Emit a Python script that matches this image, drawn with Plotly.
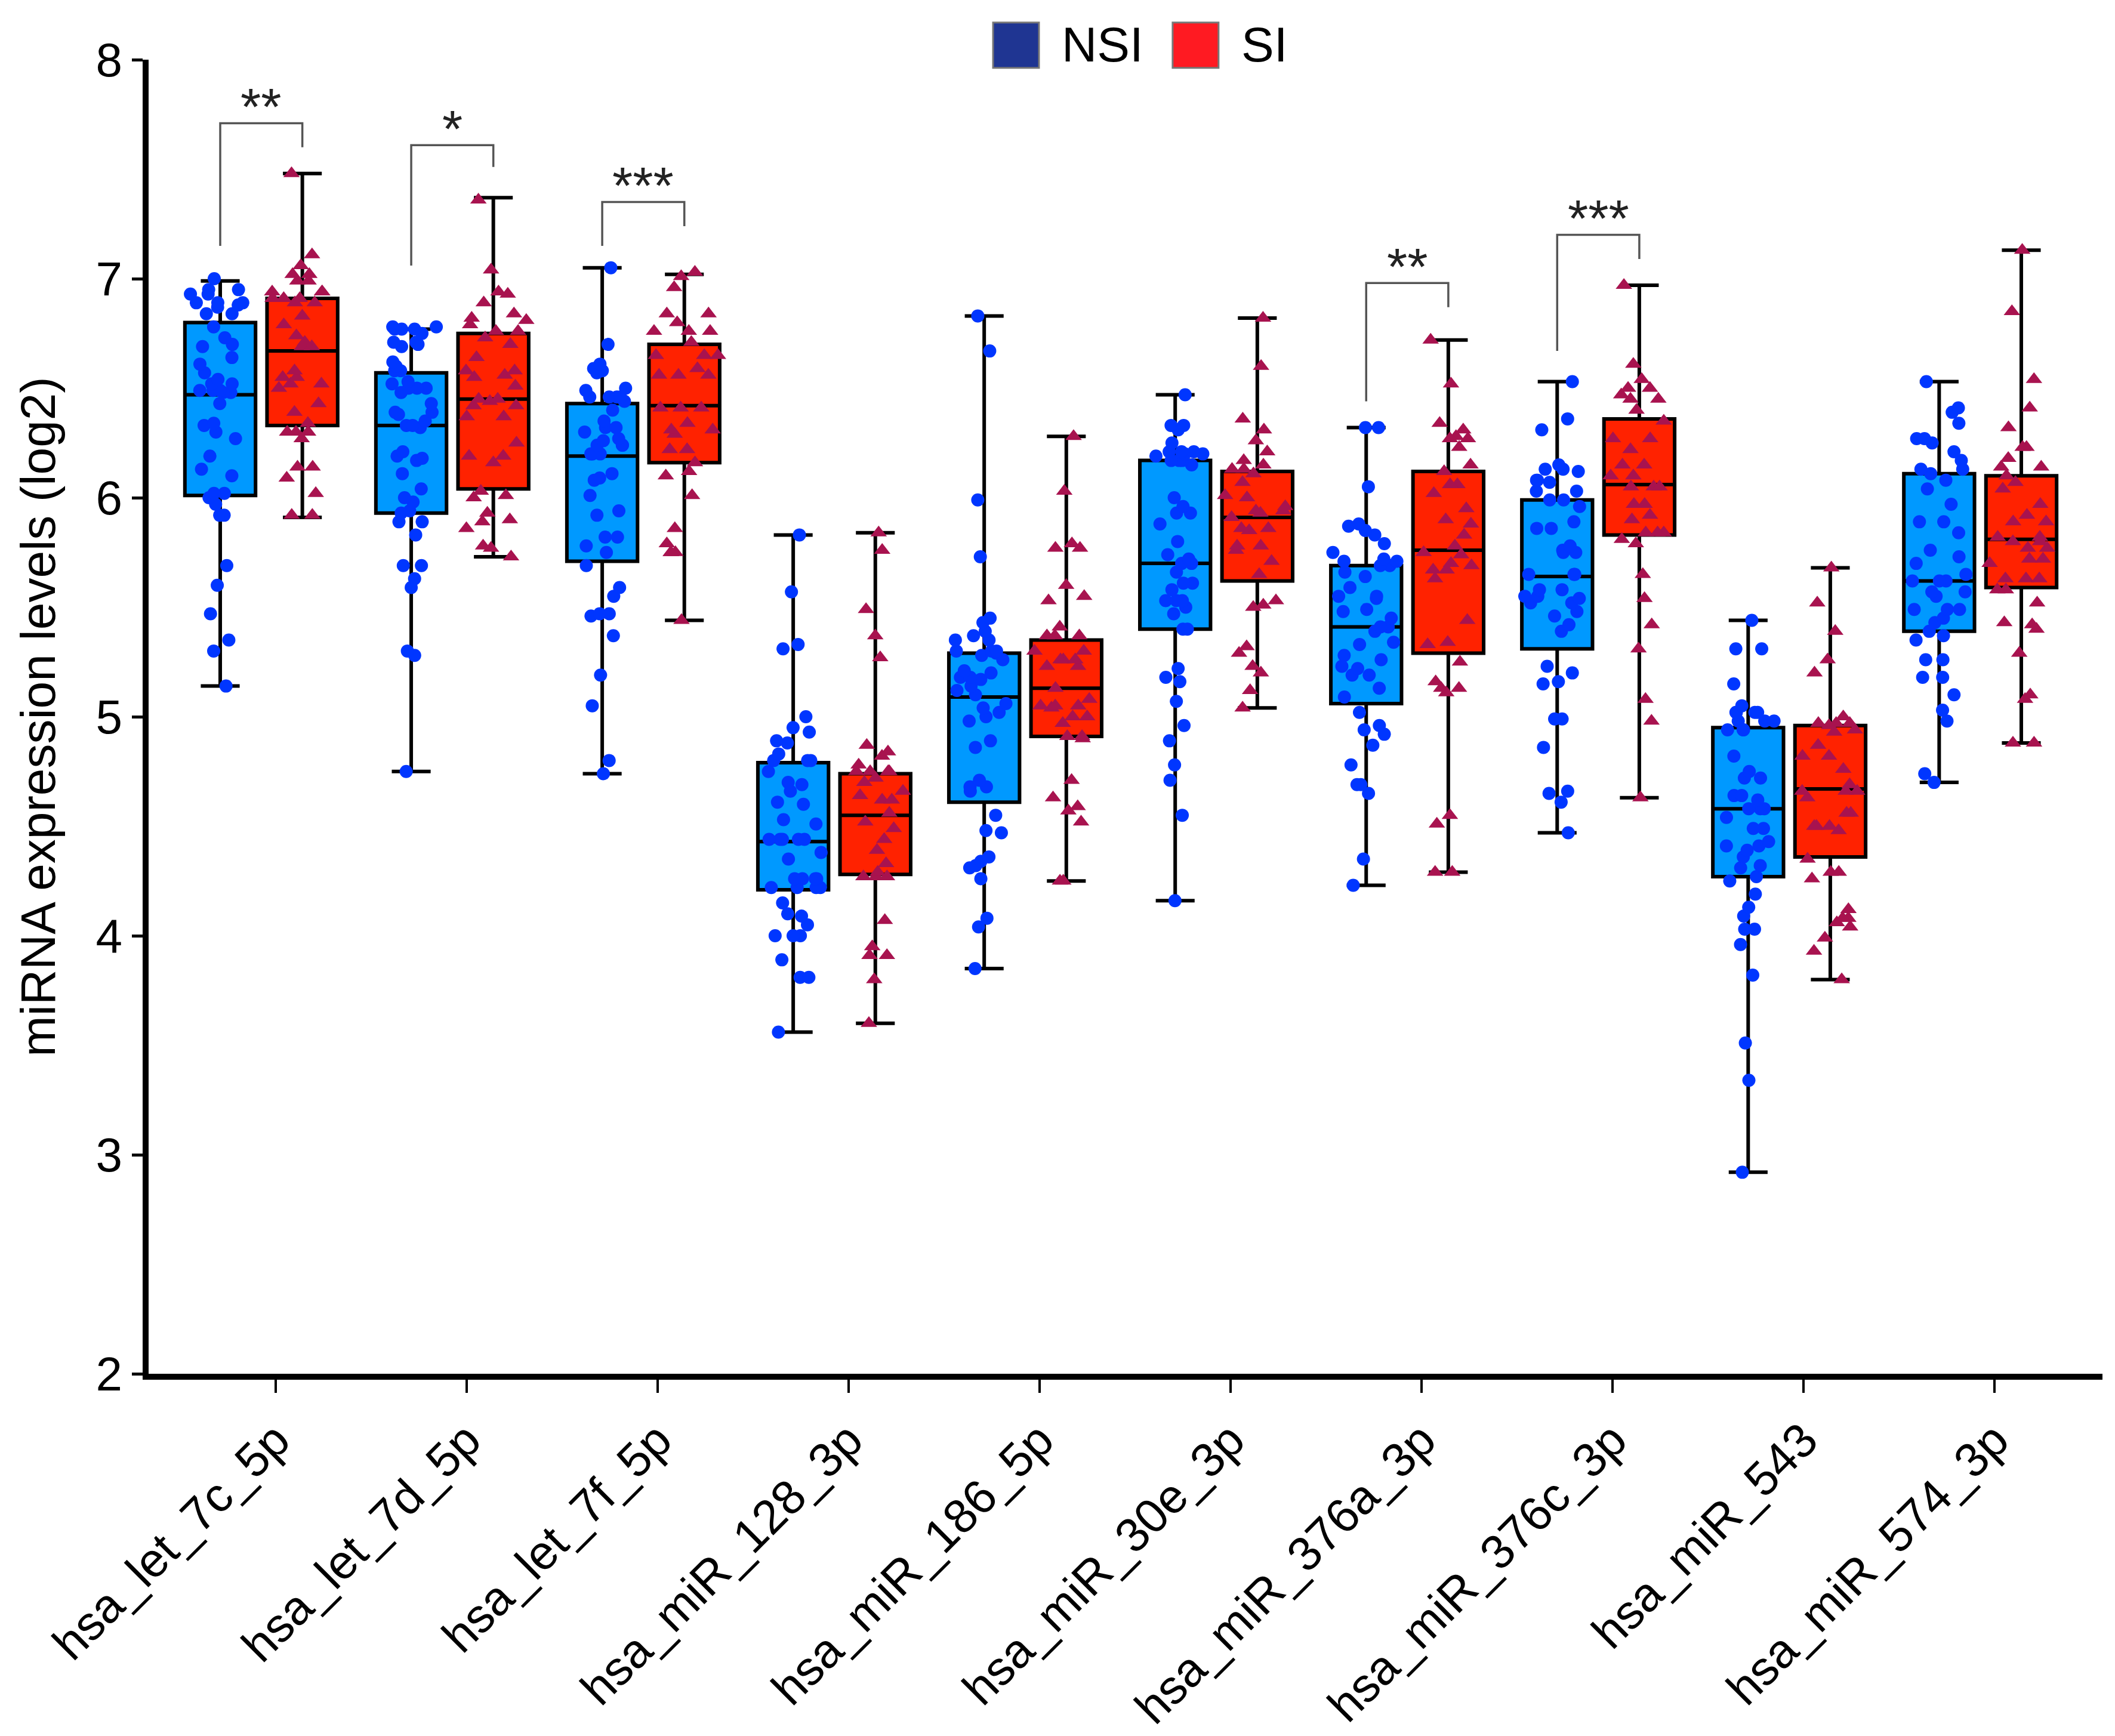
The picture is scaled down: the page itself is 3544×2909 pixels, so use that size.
import plotly.graph_objects as go

# miRNA names on the x axis
mirnas = ["hsa_let_7c_5p", "hsa_let_7d_5p", "hsa_let_7f_5p", "hsa_miR_128_3p",
          "hsa_miR_186_5p", "hsa_miR_30e_3p", "hsa_miR_376a_3p", "hsa_miR_376c_3p",
          "hsa_miR_543", "hsa_miR_574_3p"]

# box statistics (whiskers go to min / max)
nsi_min = [5.14, 4.75, 4.74, 3.56, 3.85, 4.16, 4.23, 4.47, 2.92, 4.70]
nsi_q1 = [6.01, 5.93, 5.71, 4.21, 4.61, 5.40, 5.06, 5.31, 4.27, 5.39]
nsi_median = [6.47, 6.33, 6.19, 4.43, 5.09, 5.70, 5.41, 5.64, 4.58, 5.62]
nsi_q3 = [6.80, 6.57, 6.43, 4.79, 5.29, 6.17, 5.69, 5.99, 4.95, 6.11]
nsi_max = [6.99, 6.77, 7.05, 5.83, 6.83, 6.47, 6.32, 6.53, 5.44, 6.53]

si_min = [5.91, 5.73, 5.44, 3.60, 4.25, 5.04, 4.29, 4.63, 3.80, 4.88]
si_q1 = [6.33, 6.04, 6.16, 4.28, 4.91, 5.62, 5.29, 5.83, 4.36, 5.59]
si_median = [6.67, 6.45, 6.42, 4.55, 5.13, 5.91, 5.76, 6.06, 4.67, 5.81]
si_q3 = [6.91, 6.75, 6.70, 4.74, 5.35, 6.12, 6.12, 6.36, 4.96, 6.10]
si_max = [7.48, 7.37, 7.02, 5.84, 6.28, 6.82, 6.72, 6.97, 5.68, 7.13]

# individual samples, one list per miRNA
nsi_values = [
    [7.00, 6.95, 6.95, 6.93, 6.93, 6.89, 6.89, 6.89, 6.88, 6.87, 6.84, 6.84, 6.78, 6.73, 6.70, 6.69,
     6.64, 6.61, 6.57, 6.54, 6.52, 6.52, 6.49, 6.49, 6.49, 6.48, 6.48, 6.43, 6.34, 6.33, 6.30, 6.27,
     6.19, 6.13, 6.10, 6.02, 6.02, 6.00, 5.97, 5.92, 5.92, 5.69, 5.60, 5.47, 5.35, 5.30, 5.14],
    [6.78, 6.78, 6.77, 6.77, 6.77, 6.75, 6.71, 6.71, 6.70, 6.69, 6.62, 6.60, 6.58, 6.58, 6.53, 6.52,
     6.50, 6.50, 6.50, 6.48, 6.43, 6.39, 6.39, 6.38, 6.35, 6.33, 6.33, 6.32, 6.21, 6.19, 6.18, 6.17,
     6.11, 6.04, 6.00, 5.98, 5.94, 5.93, 5.89, 5.89, 5.83, 5.69, 5.69, 5.63, 5.59, 5.30, 5.28, 4.75],
    [7.05, 6.70, 6.61, 6.59, 6.58, 6.57, 6.50, 6.49, 6.46, 6.46, 6.46, 6.46, 6.44, 6.40, 6.35, 6.32,
     6.32, 6.30, 6.27, 6.26, 6.24, 6.24, 6.24, 6.20, 6.20, 6.20, 6.11, 6.09, 6.08, 6.01, 5.94, 5.92,
     5.82, 5.82, 5.78, 5.75, 5.69, 5.59, 5.55, 5.47, 5.47, 5.46, 5.37, 5.19, 5.05, 4.80, 4.74],
    [5.83, 5.57, 5.33, 5.31, 5.00, 4.95, 4.93, 4.89, 4.88, 4.83, 4.80, 4.80, 4.80, 4.75, 4.70, 4.69,
     4.66, 4.61, 4.60, 4.53, 4.51, 4.44, 4.44, 4.44, 4.44, 4.44, 4.38, 4.35, 4.26, 4.26, 4.26, 4.26,
     4.22, 4.22, 4.22, 4.22, 4.15, 4.10, 4.09, 4.05, 4.00, 4.00, 4.00, 3.89, 3.81, 3.81, 3.56],
    [6.83, 6.67, 5.99, 5.73, 5.45, 5.43, 5.39, 5.37, 5.35, 5.35, 5.30, 5.30, 5.30, 5.29, 5.28, 5.26,
     5.21, 5.20, 5.18, 5.18, 5.17, 5.14, 5.12, 5.10, 5.06, 5.04, 5.02, 5.00, 4.98, 4.89, 4.86, 4.71,
     4.68, 4.68, 4.66, 4.55, 4.48, 4.47, 4.36, 4.34, 4.32, 4.31, 4.26, 4.08, 4.04, 3.85],
    [6.47, 6.33, 6.33, 6.31, 6.25, 6.21, 6.21, 6.21, 6.20, 6.20, 6.19, 6.17, 6.17, 6.17, 6.15, 6.00,
     5.96, 5.93, 5.93, 5.88, 5.80, 5.74, 5.72, 5.70, 5.70, 5.66, 5.61, 5.61, 5.58, 5.53, 5.53, 5.53,
     5.50, 5.47, 5.40, 5.40, 5.22, 5.18, 5.16, 5.07, 4.96, 4.89, 4.78, 4.71, 4.55, 4.16],
    [6.32, 6.32, 6.05, 5.88, 5.87, 5.85, 5.83, 5.79, 5.75, 5.72, 5.71, 5.71, 5.69, 5.69, 5.66, 5.64,
     5.59, 5.55, 5.55, 5.54, 5.49, 5.48, 5.45, 5.41, 5.41, 5.39, 5.34, 5.33, 5.28, 5.26, 5.23, 5.22,
     5.19, 5.19, 5.13, 5.09, 5.02, 4.96, 4.94, 4.92, 4.87, 4.78, 4.69, 4.69, 4.65, 4.35, 4.23],
    [6.53, 6.36, 6.31, 6.15, 6.13, 6.13, 6.12, 6.08, 6.08, 6.07, 6.03, 6.03, 5.99, 5.99, 5.96, 5.89,
     5.86, 5.86, 5.78, 5.76, 5.75, 5.75, 5.65, 5.65, 5.65, 5.58, 5.58, 5.55, 5.55, 5.54, 5.52, 5.52,
     5.48, 5.46, 5.42, 5.39, 5.23, 5.20, 5.16, 5.15, 4.99, 4.99, 4.86, 4.66, 4.65, 4.61, 4.47],
    [5.44, 5.31, 5.31, 5.15, 5.05, 5.02, 5.02, 5.02, 5.02, 4.98, 4.98, 4.98, 4.94, 4.94, 4.94, 4.82,
     4.75, 4.72, 4.72, 4.64, 4.64, 4.62, 4.58, 4.58, 4.58, 4.54, 4.49, 4.49, 4.43, 4.41, 4.41, 4.39,
     4.36, 4.32, 4.31, 4.27, 4.25, 4.19, 4.13, 4.09, 4.03, 4.03, 3.96, 3.82, 3.51, 3.34, 2.92],
    [6.53, 6.41, 6.39, 6.34, 6.27, 6.27, 6.25, 6.21, 6.17, 6.13, 6.13, 6.11, 6.08, 6.04, 5.97, 5.89,
     5.89, 5.84, 5.76, 5.73, 5.70, 5.65, 5.62, 5.62, 5.62, 5.57, 5.57, 5.55, 5.49, 5.49, 5.49, 5.45,
     5.43, 5.39, 5.37, 5.35, 5.26, 5.26, 5.18, 5.18, 5.10, 5.03, 4.98, 4.74, 4.70],
]

si_values = [
    [7.48, 7.11, 7.06, 7.02, 7.02, 6.99, 6.99, 6.94, 6.94, 6.94, 6.91, 6.91, 6.91, 6.89, 6.89, 6.83,
     6.79, 6.74, 6.71, 6.69, 6.69, 6.58, 6.55, 6.55, 6.52, 6.52, 6.50, 6.43, 6.39, 6.34, 6.30, 6.30,
     6.30, 6.27, 6.14, 6.14, 6.09, 6.02, 5.92, 5.92],
    [7.36, 7.04, 6.94, 6.93, 6.89, 6.84, 6.82, 6.81, 6.79, 6.76, 6.76, 6.73, 6.70, 6.64, 6.58, 6.58,
     6.56, 6.55, 6.51, 6.45, 6.45, 6.44, 6.42, 6.42, 6.37, 6.37, 6.25, 6.19, 6.19, 6.16, 6.03, 6.01,
     6.00, 5.93, 5.90, 5.89, 5.86, 5.78, 5.77, 5.73],
    [7.03, 7.01, 6.96, 6.84, 6.84, 6.80, 6.76, 6.76, 6.76, 6.71, 6.65, 6.65, 6.65, 6.59, 6.56, 6.56,
     6.56, 6.41, 6.41, 6.41, 6.34, 6.31, 6.31, 6.29, 6.22, 6.22, 6.16, 6.12, 6.10, 6.01, 5.86, 5.79,
     5.75, 5.75, 5.75, 5.44],
    [5.84, 5.76, 5.49, 5.37, 5.27, 4.87, 4.84, 4.82, 4.78, 4.75, 4.75, 4.75, 4.75, 4.72, 4.70, 4.66,
     4.64, 4.62, 4.62, 4.56, 4.52, 4.49, 4.44, 4.39, 4.33, 4.29, 4.27, 4.27, 4.27, 4.07, 3.95, 3.91,
     3.91, 3.80, 3.60],
    [6.28, 6.03, 5.79, 5.77, 5.77, 5.60, 5.55, 5.53, 5.41, 5.37, 5.37, 5.37, 5.30, 5.30, 5.26, 5.26,
     5.26, 5.23, 5.23, 5.13, 5.08, 5.05, 5.05, 5.05, 5.04, 5.00, 5.00, 4.97, 4.91, 4.91, 4.90, 4.71,
     4.63, 4.59, 4.57, 4.52, 4.25, 4.25],
    [6.82, 6.60, 6.36, 6.31, 6.26, 6.21, 6.17, 6.15, 6.13, 6.13, 6.11, 6.07, 6.01, 6.00, 5.96, 5.94,
     5.94, 5.93, 5.91, 5.86, 5.86, 5.85, 5.78, 5.78, 5.76, 5.71, 5.65, 5.53, 5.51, 5.50, 5.32, 5.29,
     5.23, 5.20, 5.12, 5.04],
    [6.72, 6.52, 6.34, 6.31, 6.28, 6.27, 6.27, 6.23, 6.15, 6.12, 6.06, 6.06, 6.02, 5.95, 5.90, 5.88,
     5.83, 5.78, 5.75, 5.74, 5.70, 5.69, 5.67, 5.67, 5.63, 5.44, 5.34, 5.33, 5.25, 5.16, 5.13, 5.13,
     5.11, 4.55, 4.51, 4.29, 4.29],
    [6.97, 6.61, 6.54, 6.50, 6.50, 6.47, 6.45, 6.45, 6.40, 6.35, 6.27, 6.27, 6.22, 6.15, 6.15, 6.10,
     6.10, 6.05, 6.05, 6.05, 5.97, 5.97, 5.92, 5.90, 5.84, 5.84, 5.84, 5.81, 5.79, 5.65, 5.54, 5.42,
     5.31, 5.08, 4.98, 4.63],
    [5.68, 5.52, 5.39, 5.26, 5.20, 5.00, 4.97, 4.97, 4.97, 4.96, 4.94, 4.93, 4.87, 4.82, 4.82, 4.76,
     4.69, 4.66, 4.66, 4.66, 4.63, 4.56, 4.56, 4.50, 4.50, 4.50, 4.48, 4.35, 4.29, 4.29, 4.26, 4.12,
     4.08, 4.08, 4.06, 4.04, 3.99, 3.93, 3.80],
    [7.13, 6.85, 6.54, 6.41, 6.32, 6.23, 6.23, 6.18, 6.14, 6.14, 6.10, 6.07, 6.04, 5.97, 5.92, 5.89,
     5.89, 5.82, 5.82, 5.80, 5.80, 5.77, 5.77, 5.72, 5.72, 5.70, 5.63, 5.63, 5.63, 5.58, 5.58, 5.52,
     5.43, 5.42, 5.40, 5.29, 5.10, 5.08, 4.88, 4.88],
]

# significance brackets
sig_cats = [0, 1, 2, 6, 7]
sig_labels = ["**", "*", "***", "**", "***"]
sig_top = [7.71, 7.61, 7.35, 6.98, 7.20]
sig_left_end = [7.15, 7.06, 7.15, 6.44, 6.67]
sig_right_end = [7.60, 7.51, 7.24, 6.87, 7.09]
sig_text_y = [7.83, 7.73, 7.47, 7.10, 7.32]

FONT = "Liberation Sans, Arial, Helvetica, sans-serif"
NSI_OFF, SI_OFF, BOX_W = -0.29, 0.14, 0.37

cat_pos = list(range(len(mirnas)))
nsi_x = [p + NSI_OFF for p in cat_pos]
si_x = [p + SI_OFF for p in cat_pos]

fig = go.Figure()

# boxes (whiskers to min/max)
fig.add_trace(go.Box(x=nsi_x, q1=nsi_q1, median=nsi_median, q3=nsi_q3,
                     lowerfence=nsi_min, upperfence=nsi_max, boxpoints=False,
                     width=BOX_W, whiskerwidth=0.55, fillcolor="#0099FF",
                     line=dict(color="black", width=6), name="NSI", showlegend=False))
fig.add_trace(go.Box(x=si_x, q1=si_q1, median=si_median, q3=si_q3,
                     lowerfence=si_min, upperfence=si_max, boxpoints=False,
                     width=BOX_W, whiskerwidth=0.55, fillcolor="#FF2200",
                     line=dict(color="black", width=6), name="SI", showlegend=False))

# jittered sample points on top
pts_nsi_x = [nsi_x[i] for i, v in enumerate(nsi_values) for _ in v]
pts_nsi_y = [y for v in nsi_values for y in v]
pts_si_x = [si_x[i] for i, v in enumerate(si_values) for _ in v]
pts_si_y = [y for v in si_values for y in v]

fig.add_trace(go.Box(x=pts_nsi_x, y=pts_nsi_y, boxpoints="all", jitter=1.0, pointpos=0,
                     width=BOX_W, fillcolor="rgba(0,0,0,0)", line=dict(width=0),
                     marker=dict(color="#0036FF", size=22, symbol="circle"),
                     showlegend=False, hoverinfo="y"))
fig.add_trace(go.Box(x=pts_si_x, y=pts_si_y, boxpoints="all", jitter=1.0, pointpos=0,
                     width=BOX_W, fillcolor="rgba(0,0,0,0)", line=dict(width=0),
                     marker=dict(color="#A8134F", size=24, symbol="triangle-up"),
                     showlegend=False, hoverinfo="y"))

# significance brackets and stars
for c, lab, top, le, re_, ty in zip(sig_cats, sig_labels, sig_top, sig_left_end,
                                     sig_right_end, sig_text_y):
    xl, xr = c + NSI_OFF, c + SI_OFF
    fig.add_shape(type="path", xref="x", yref="y",
                  path=f"M {xl},{le} L {xl},{top} L {xr},{top} L {xr},{re_}",
                  line=dict(color="#555555", width=3.5))
    fig.add_annotation(x=(xl + xr) / 2, y=ty, text=lab, showarrow=False,
                       font=dict(family=FONT, size=88, color="#222222"),
                       xanchor="center", yanchor="middle", yshift=-16)

# hand-drawn legend at the top
legend_items = [("NSI", "#1F3592", 0.4322), ("SI", "#FF1A22", 0.5241)]
for name, col, x0 in legend_items:
    fig.add_shape(type="rect", xref="paper", yref="paper",
                  x0=x0, x1=x0 + 0.0235, y0=0.9937, y1=1.0283,
                  fillcolor=col, line=dict(color="#777777", width=3))
    fig.add_annotation(xref="paper", yref="paper", x=x0 + 0.0345, y=1.0115,
                       text=name, showarrow=False, xanchor="left", yanchor="middle",
                       font=dict(family=FONT, size=82, color="black"))

fig.update_layout(
    width=3544, height=2909, autosize=False,
    margin=dict(l=241, r=29, t=92, b=594, pad=0),
    plot_bgcolor="white", paper_bgcolor="white",
    font=dict(family=FONT, color="black"),
    boxmode="overlay", showlegend=False,
)
fig.update_xaxes(range=[-0.665, 9.565], tickmode="array", tickvals=cat_pos, ticktext=mirnas,
                 tickangle=-45, ticks="outside", ticklen=22, tickwidth=4, tickcolor="black",
                 showline=True, linewidth=10, linecolor="black", showgrid=False, zeroline=False,
                 tickfont=dict(family=FONT, size=80, color="black"))
fig.update_yaxes(range=[2, 8], dtick=1, ticks="outside", ticklen=18, tickwidth=5,
                 tickcolor="black", showline=True, linewidth=10, linecolor="black",
                 showgrid=False, zeroline=False,
                 tickfont=dict(family=FONT, size=80, color="black"),
                 title=dict(text="miRNA expression levels (log2)", standoff=45,
                            font=dict(family=FONT, size=82, color="black")))

fig.write_html("out.html")
